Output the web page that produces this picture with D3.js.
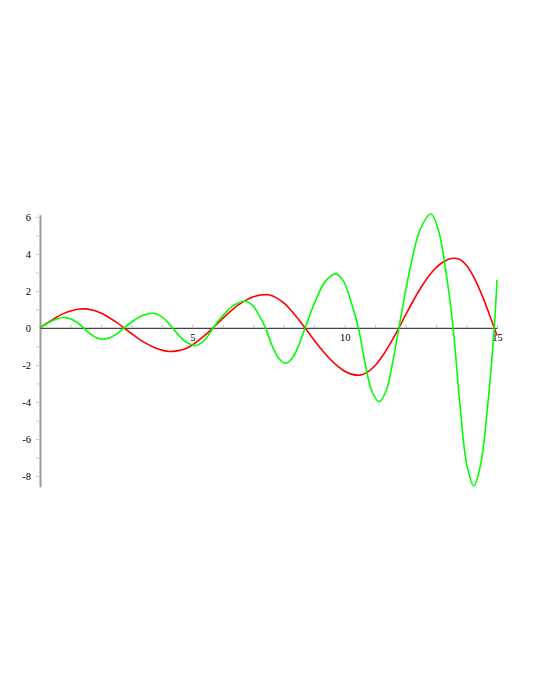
<!DOCTYPE html>
<html>
<head>
<meta charset="utf-8">
<script src="https://cdn.jsdelivr.net/npm/d3@7"></script>
<style>
  body { margin: 0; background: #fff; }
  svg { display: block; }
  .axis text { font-family: "Liberation Serif", "Times New Roman", serif; font-size: 10.5px; fill: #000; }
</style>
</head>
<body>
<svg width="540" height="699"></svg>
<script>
var svg = d3.select("svg"),
  width = +svg.attr("width"),
  height = +svg.attr("height");

// red curve, sampled every 0.25
var redX = d3.range(0, 15.001, 0.25);
var redY = [0, 0.28, 0.54, 0.76, 0.92, 1.01, 1.03, 0.96, 0.81, 0.58, 0.31, 0.01,
  -0.30, -0.60, -0.85, -1.06, -1.20, -1.27, -1.24, -1.14, -0.92, -0.62, -0.27,
  0.12, 0.52, 0.90, 1.23, 1.49, 1.68, 1.78, 1.79, 1.64, 1.35, 0.93, 0.43,
  -0.11, -0.66, -1.18, -1.65, -2.04, -2.34, -2.51, -2.55, -2.39, -2.03, -1.49, -0.83, -0.09,
  0.70, 1.47, 2.17, 2.78, 3.26, 3.58, 3.75, 3.72, 3.37, 2.71, 1.80, 0.73, -0.41];

// green curve, read at zeros, extremes and two points between each
var greenX = [0, 0.27, 0.55, 0.82, 1.02, 1.23, 1.43, 1.64, 1.85, 2.06, 2.29, 2.53, 2.76,
  3.08, 3.39, 3.71, 3.92, 4.14, 4.35, 4.6, 4.85, 5.1, 5.29, 5.49, 5.68,
  6.03, 6.39, 6.74, 6.96, 7.18, 7.4, 7.62, 7.84, 8.06, 8.27, 8.49, 8.7,
  9.04, 9.37, 9.71, 9.96, 10.2, 10.45, 10.68, 10.9, 11.13, 11.35, 11.56, 11.78,
  12.13, 12.48, 12.83, 13.07, 13.32, 13.56, 13.79, 14.01, 14.24, 14.46, 14.69, 14.91, 15];
var greenY = [0, 0.28, 0.48, 0.56, 0.48, 0.28, 0, -0.31, -0.53, -0.61, -0.53, -0.31, 0,
  0.40, 0.68, 0.79, 0.68, 0.40, 0, -0.48, -0.82, -0.95, -0.82, -0.48, 0,
  0.72, 1.25, 1.44, 1.25, 0.72, 0, -0.96, -1.65, -1.91, -1.65, -0.96, 0,
  1.46, 2.53, 2.92, 2.53, 1.46, 0, -1.99, -3.45, -3.98, -3.45, -1.99, 0,
  3.08, 5.33, 6.16, 5.33, 3.08, 0, -4.27, -7.40, -8.54, -7.40, -4.27, 0, 2.6];

var xTicks = d3.range(1, 16);
var xLabels = [5, 10, 15];
var yTicks = d3.range(-8, 7);
var yLabels = [-8, -6, -4, -2, 0, 2, 4, 6];

var x = d3.scaleLinear().domain([0, 15]).range([40, 497]);
var y = d3.scaleLinear().domain([-8.58, 6.12]).range([486.7, 214.7]);

svg.append("rect").attr("width", width).attr("height", height).attr("fill", "#fff");

var yAxis = svg
  .append("g")
  .attr("class", "axis")
  .attr("transform", "translate(" + x(0) + ",0)")
  .call(
    d3
      .axisLeft(y)
      .tickValues(yTicks)
      .tickSizeInner(4)
      .tickSizeOuter(0)
      .tickPadding(5)
      .tickFormat(function (d) {
        return yLabels.indexOf(d) >= 0 ? d : "";
      })
  );
yAxis.select(".domain").attr("stroke", "#999").attr("stroke-width", 2);
yAxis.selectAll(".tick line").attr("stroke", "#ccc");
yAxis.selectAll(".tick").filter(function (d) { return d === 0; }).select("line").remove();

var xAxis = svg
  .append("g")
  .attr("class", "axis")
  .attr("transform", "translate(0," + y(0) + ")")
  .call(
    d3
      .axisBottom(x)
      .tickValues(xTicks)
      .tickSizeInner(-3)
      .tickSizeOuter(0)
      .tickPadding(6)
      .tickFormat(function (d) {
        return xLabels.indexOf(d) >= 0 ? d : "";
      })
  );
xAxis.select(".domain").attr("stroke", "#444").attr("stroke-width", 1.2);
xAxis.selectAll(".tick line").attr("stroke", "#bbb");

var line = d3
  .line()
  .x(function (d) { return x(d[0]); })
  .y(function (d) { return y(d[1]); })
  .curve(d3.curveCatmullRom.alpha(0.5));

svg
  .append("path")
  .datum(redX.map(function (v, i) { return [v, redY[i]]; }))
  .attr("fill", "none")
  .attr("stroke", "#ff0000")
  .attr("stroke-width", 1.6)
  .attr("d", line);

svg
  .append("path")
  .datum(greenX.map(function (v, i) { return [v, greenY[i]]; }))
  .attr("fill", "none")
  .attr("stroke", "#00ff00")
  .attr("stroke-width", 1.6)
  .attr("d", line);
</script>
</body>
</html>
